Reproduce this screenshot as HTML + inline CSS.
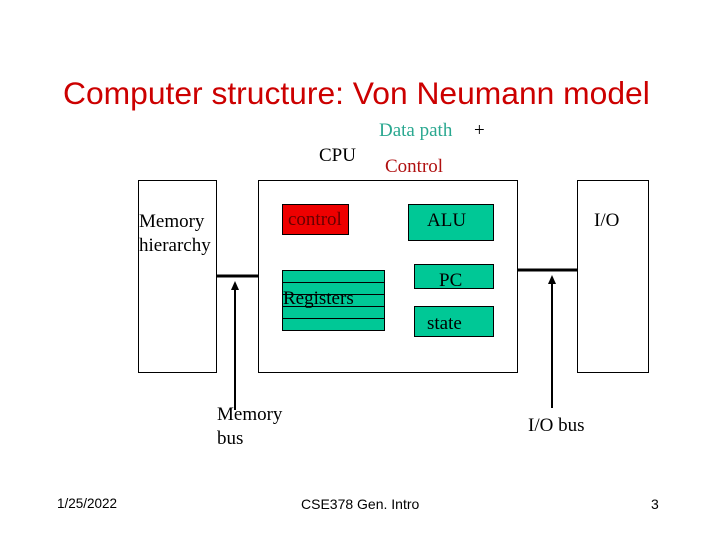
<!DOCTYPE html>
<html><head><style>
body{margin:0;width:720px;height:540px;background:#fff;position:relative;overflow:hidden;font-family:"Liberation Serif",serif;}
.a{position:absolute;white-space:nowrap;}
.b{position:absolute;box-sizing:border-box;border:1px solid #000;}
.g{background:#00c896;}
.t{font-size:19px;}
</style></head><body>
<div class="a" style="left:63px;top:75px;font-family:'Liberation Sans',sans-serif;font-size:31.8px;color:#cc0000;">Computer structure: Von Neumann model</div>
<div class="a t" style="left:379px;top:120px;color:#2aa890;">Data path</div>
<div class="a t" style="left:474px;top:120px;">+</div>
<div class="a t" style="left:319px;top:145px;">CPU</div>
<div class="a t" style="left:385px;top:156px;color:#b01010;">Control</div>

<div class="b" style="left:138px;top:180px;width:79px;height:193px;"></div>
<div class="a t" style="left:139px;top:210px;line-height:24px;">Memory<br>hierarchy</div>
<div class="b" style="left:258px;top:180px;width:260px;height:193px;"></div>
<div class="b" style="left:577px;top:180px;width:72px;height:193px;"></div>
<div class="a t" style="left:594px;top:210px;">I/O</div>

<div class="b" style="left:282px;top:204px;width:67px;height:31px;background:#ee0000;"></div>
<div class="a t" style="left:288px;top:209px;color:#600;">control</div>
<div class="b g" style="left:408px;top:204px;width:86px;height:37px;"></div>
<div class="a t" style="left:427px;top:210px;">ALU</div>
<div class="b g" style="left:282px;top:270px;width:103px;height:61px;"></div>
<div class="a" style="left:282px;top:282px;width:103px;height:1px;background:#000"></div>
<div class="a" style="left:282px;top:294px;width:103px;height:1px;background:#000"></div>
<div class="a" style="left:282px;top:306px;width:103px;height:1px;background:#000"></div>
<div class="a" style="left:282px;top:318px;width:103px;height:1px;background:#000"></div>
<div class="a t" style="left:283px;top:288px;">Registers</div>
<div class="b g" style="left:414px;top:264px;width:80px;height:25px;"></div>
<div class="a t" style="left:439px;top:270px;">PC</div>
<div class="b g" style="left:414px;top:306px;width:80px;height:31px;"></div>
<div class="a t" style="left:427px;top:313px;">state</div>

<svg class="a" style="left:0;top:0" width="720" height="540">
<line x1="216" y1="276" x2="258" y2="276" stroke="#000" stroke-width="3"/>
<line x1="517" y1="270" x2="577" y2="270" stroke="#000" stroke-width="3"/>
<line x1="235" y1="410" x2="235" y2="288" stroke="#000" stroke-width="2"/>
<polygon points="235,281 231,290 239,290" fill="#000"/>
<line x1="552" y1="408" x2="552" y2="282" stroke="#000" stroke-width="2"/>
<polygon points="552,275 548,284 556,284" fill="#000"/>
</svg>
<div class="a t" style="left:217px;top:403px;line-height:24px;">Memory<br>bus</div>
<div class="a t" style="left:528px;top:415px;">I/O bus</div>
<div class="a" style="left:57px;top:496px;font-family:'Liberation Sans',sans-serif;font-size:13.5px;">1/25/2022</div>
<div class="a" style="left:301px;top:496px;font-family:'Liberation Sans',sans-serif;font-size:14px;">CSE378 Gen. Intro</div>
<div class="a" style="left:651px;top:496px;font-family:'Liberation Sans',sans-serif;font-size:14px;">3</div>
</body></html>
